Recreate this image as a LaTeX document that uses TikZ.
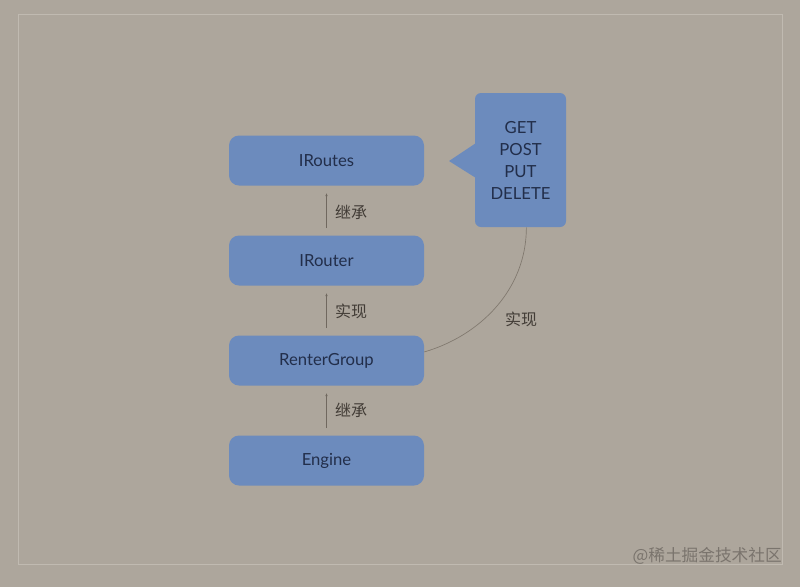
\documentclass[tikz,border=0pt]{standalone}
\usepackage{fontspec}
\setmainfont{Lato}
\newfontfamily\cjk{Noto Sans CJK SC}
\usepackage{xcolor}
\usetikzlibrary{arrows.meta}
\definecolor{paper}{RGB}{173,166,156}
\definecolor{framelight}{RGB}{192,186,177}
\definecolor{boxblue}{RGB}{108,139,189}
\definecolor{boxtext}{RGB}{34,46,74}
\definecolor{linkgray}{RGB}{112,104,95}
\definecolor{curvegray}{RGB}{128,120,110}
\definecolor{labelgray}{RGB}{66,60,54}
\definecolor{markgray}{RGB}{122,116,109}

\begin{document}
\begin{tikzpicture}[x=0.75pt,y=0.75pt,yscale=-1,xscale=1,
  classbox/.style={fill=boxblue,rounded corners=7.5pt,minimum width=146.25pt,minimum height=37.5pt,inner sep=0pt,text=boxtext,font=\fontsize{12.5}{14}\selectfont},
  link/.style={draw=linkgray,line width=0.5pt,shorten >=5.25pt,shorten <=5.25pt,-{Latex[length=2.5pt,width=1.8pt]}},
  relation/.style={text=labelgray,font=\cjk\fontsize{12}{14}\selectfont,inner sep=0.75pt}]
\useasboundingbox (0,0) rectangle (800,587);

%Shape: Background
\fill [paper] (0,0) rectangle (800,587);
%Shape: Frame
\draw [framelight,line width=0.75pt] (18,14) rectangle (782,564);

%Shape: Classes
\node [classbox] (IRoutes) at (326.5,160.5) {IRoutes};
\node [classbox] (IRouter) at (326.5,260.5) {IRouter};
\node [classbox] (RenterGroup) at (326.5,360.5) {RenterGroup};
\node [classbox] (Engine) at (326.5,460.5) {Engine};

%Shape: Callout
\node [fill=boxblue,rounded corners=4.5pt,minimum width=68.25pt,minimum height=100.5pt,inner sep=0pt,text=boxtext,align=center,font=\fontsize{12.5}{16.5}\selectfont] (methods) at (520.5,160) {GET\\POST\\PUT\\DELETE};
\fill [boxblue] (476,143) -- (449,161) -- (476,178) -- cycle ;

%Straight Lines
\draw [link] (IRouter) -- (IRoutes) ;
\draw [link] (RenterGroup) -- (IRouter) ;
\draw [link] (Engine) -- (RenterGroup) ;
%Curve
\draw [curvegray,line width=0.5pt] (RenterGroup.5) .. controls +(55,-16) and +(0,63) .. (methods.-85) ;

% Text Node
\node [relation] (inheritA) at (351,212) {继承};
% Text Node
\node [relation] (implA) at (351,311) {实现};
% Text Node
\node [relation] (inheritB) at (351,410) {继承};
% Text Node
\node [relation] (implB) at (521,319) {实现};
% Text Node
\node [anchor=east,inner sep=0.75pt,text=markgray,font=\cjk\fontsize{12.5}{15}\selectfont] (mark) at (783,556) {@稀土掘金技术社区};

\end{tikzpicture}
\end{document}
